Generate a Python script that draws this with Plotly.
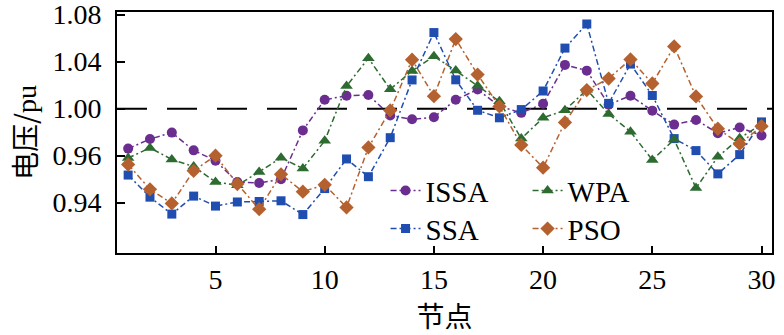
import plotly.graph_objects as go

nodes = list(range(1, 31))

issa = [0.9660, 0.9741, 0.9796, 0.9645, 0.9557, 0.9375, 0.9367, 0.9399, 0.9815, 1.0076,
        1.0110, 1.0116, 0.9942, 0.9909, 0.9927, 1.0076, 1.0163, 1.0021, 0.9964, 1.0041,
        1.0372, 1.0323, 1.0034, 1.0110, 0.9983, 0.9864, 0.9904, 0.9791, 0.9839, 0.9772]
wpa = [0.9580, 0.9666, 0.9568, 0.9507, 0.9377, 0.9348, 0.9462, 0.9582, 0.9491, 0.9726,
       1.0192, 1.0429, 1.0165, 1.0321, 1.0445, 1.0324, 1.0194, 1.0062, 0.9745, 0.9922,
       0.9986, 1.0161, 0.9955, 0.9804, 0.9564, 0.9737, 0.9324, 0.9590, 0.9749, 0.9866]
ssa = [0.9435, 0.9247, 0.9103, 0.9256, 0.9171, 0.9206, 0.9210, 0.9216, 0.9099, 0.9320,
       0.9572, 0.9421, 0.9753, 1.0244, 1.0647, 1.0245, 0.9986, 0.9922, 0.9992, 1.0150,
       1.0515, 1.0720, 1.0045, 1.0379, 1.0112, 0.9745, 0.9643, 0.9445, 0.9609, 0.9887]
pso = [0.9525, 0.9314, 0.9194, 0.9471, 0.9600, 0.9359, 0.9145, 0.9441, 0.9294, 0.9352,
       0.9160, 0.9670, 0.9985, 1.0416, 1.0106, 1.0592, 1.0290, 1.0019, 0.9691, 0.9498,
       0.9883, 1.0158, 1.0256, 1.0419, 1.0214, 1.0529, 1.0104, 0.9829, 0.9700, 0.9851]

y_tickvals = [0.92, 0.96, 1.00, 1.04, 1.08]
y_ticktext = ["0.94", "0.96", "1.00", "1.04", "1.08"]
x_tickvals = [5, 10, 15, 20, 25, 30]
ref_level = 1.00

serif = "Liberation Serif"
cjk = "Noto Sans CJK SC"

series = [
    # name, values, color, symbol, size, legend
    ("ISSA", issa, "#6B2D8F", "circle", 10, "legend"),
    ("SSA", ssa, "#1F4DB0", "square", 9, "legend2"),
    ("WPA", wpa, "#2D6B30", "triangle-up", 11, "legend"),
    ("PSO", pso, "#B5612F", "diamond", 11, "legend2"),
]

fig = go.Figure()
for name, vals, color, sym, size, leg in series:
    fig.add_trace(go.Scatter(
        x=nodes, y=vals, name=name, mode="lines+markers",
        line=dict(color=color, width=1.5, dash="6px,3px,2px,3px"),
        marker=dict(symbol=sym, size=size, color=color),
        legend=leg,
    ))

fig.add_shape(type="line", xref="x", yref="y", x0=0.49, x1=30.48,
              y0=ref_level, y1=ref_level,
              line=dict(color="black", width=2, dash="30px,20px"), layer="below")

fig.update_layout(
    width=784, height=335,
    margin=dict(l=117, r=12, t=12, b=82),
    paper_bgcolor="white", plot_bgcolor="white",
    font=dict(family=serif, size=28, color="black"),
    legend=dict(orientation="h", x=0.41, y=0.2585, xanchor="left", yanchor="middle",
                font=dict(size=29, family=serif), bgcolor="rgba(0,0,0,0)",
                traceorder="normal", entrywidth=97, entrywidthmode="pixels"),
    legend2=dict(orientation="h", x=0.41, y=0.1008, xanchor="left", yanchor="middle",
                 font=dict(size=29, family=serif), bgcolor="rgba(0,0,0,0)",
                 traceorder="normal", entrywidth=97, entrywidthmode="pixels"),
    xaxis=dict(range=[0.49, 30.48], tickvals=x_tickvals, ticks="inside", ticklen=7,
               tickwidth=2, tickcolor="black", showline=True, linewidth=2,
               linecolor="black", mirror=True, showgrid=False, zeroline=False,
               automargin=False,
               tickfont=dict(size=28, family=serif),
               title=dict(text="节点", font=dict(size=28, family=cjk), standoff=6)),
    yaxis=dict(range=[0.8772, 1.0822], tickvals=y_tickvals, ticktext=y_ticktext,
               ticks="inside", ticklen=8, tickwidth=2, tickcolor="black",
               showline=True, linewidth=2, linecolor="black", mirror=True,
               showgrid=False, zeroline=False, ticklabelstandoff=8,
               ticklabeloverflow="allow", automargin=False,
               tickfont=dict(size=28, family=serif),
               title=dict(text="电压/<span style='font-family:Liberation Serif'>pu</span>",
                          font=dict(size=28, family=cjk), standoff=8)),
)

fig.write_html("out.html")
